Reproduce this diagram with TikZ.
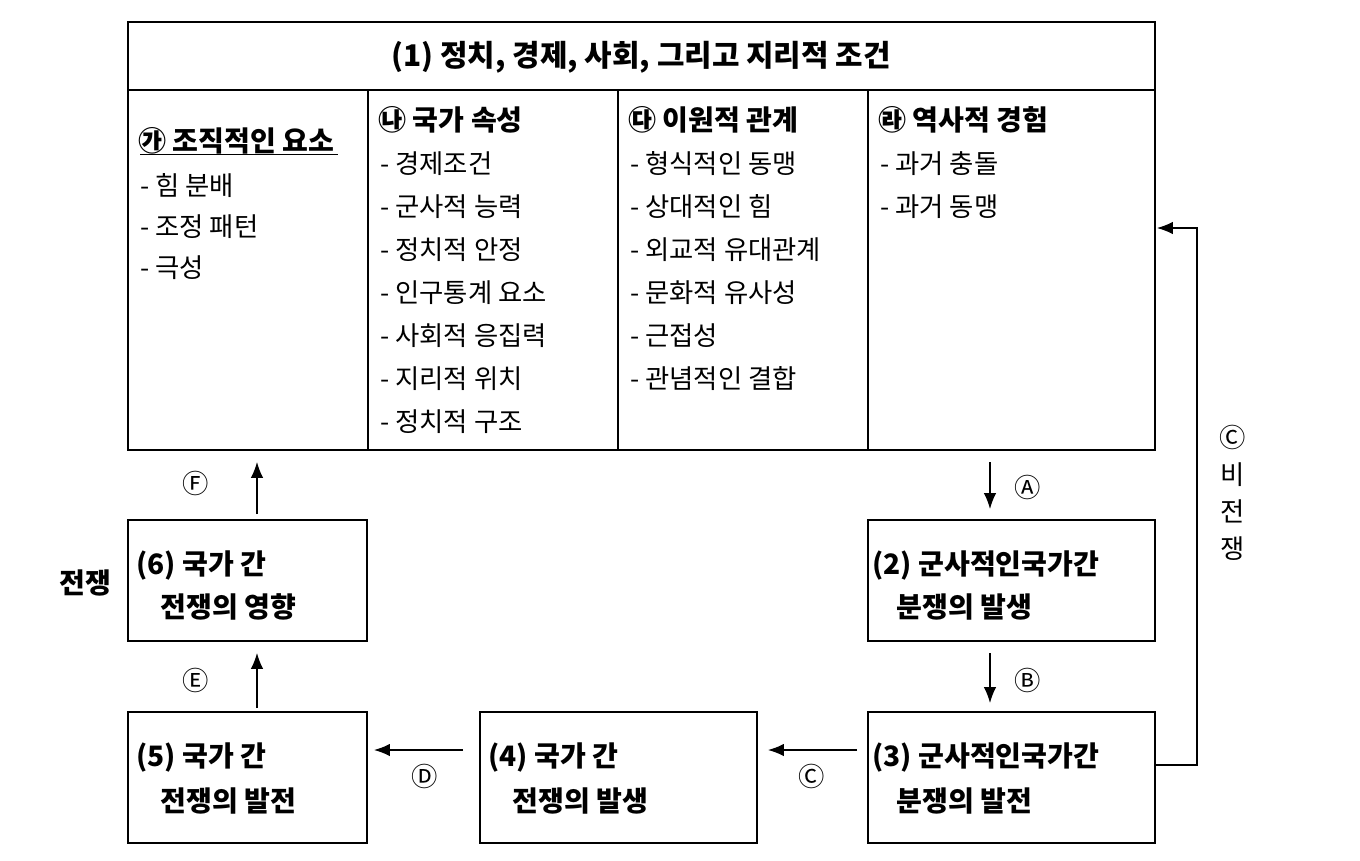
\documentclass[tikz,border=0pt]{standalone}
\usepackage{fontspec}
\setmainfont{Noto Sans CJK KR}
\newfontfamily\kb{Noto Sans CJK KR}
\begin{document}
\begin{tikzpicture}[x=0.02cm,y=-0.02cm,
  box/.style={draw,line width=0.8pt},
  arr/.style={-{Latex[length=9pt,width=7pt]},line width=0.7pt},
  t/.style={anchor=west,font=\fontsize{15}{15}\selectfont,inner sep=0pt},
  h/.style={anchor=west,font=\fontsize{16}{16}\selectfont\bfseries,inner sep=0pt},
  lb/.style={font=\fontsize{15}{15}\selectfont,inner sep=0pt}]
\usetikzlibrary{arrows.meta}
\useasboundingbox (0,0) rectangle (1360,860);
\draw[box] (128,22) rectangle (1155,450);
\draw[box] (128,90) -- (1155,90);
\foreach \x in {368,618,868}{\draw[box] (\x,90) -- (\x,450);}
\node[lb,font=\fontsize{17}{17}\selectfont\bfseries] (title) at (641,57) {(1) 정치, 경제, 사회, 그리고 지리적 조건};
% column 1
\node[h] (h1) at (138,141) {㉮ 조직적인 요소};
\draw (140,154) -- (338,154);
\foreach \s [count=\i] in {힘 분배,조정 패턴,극성}{\node[t] (c1\i) at (140,145+41*\i) {- \s};}
% column 2
\node[h] (h2) at (378,120) {㉯ 국가 속성};
\foreach \s [count=\i] in {경제조건,군사적 능력,정치적 안정,인구통계 요소,사회적 응집력,지리적 위치,정치적 구조}{\node[t] (c2\i) at (380,121+43*\i) {- \s};}
% column 3
\node[h] (h3) at (628,120) {㉰ 이원적 관계};
\foreach \s [count=\i] in {형식적인 동맹,상대적인 힘,외교적 유대관계,문화적 유사성,근접성,관념적인 결합}{\node[t] (c3\i) at (630,121+43*\i) {- \s};}
% column 4
\node[h] (h4) at (878,120) {㉱ 역사적 경험};
\foreach \s [count=\i] in {과거 충돌,과거 동맹}{\node[t] (c4\i) at (880,121+43*\i) {- \s};}
% boxes
\draw[box] (128,520) rectangle (367,641); \coordinate (b6) at (128,520);
\node[h] (b6a) at (136,565) {(6) 국가 간};
\node[h] (b6b) at (160,607) {전쟁의 영향};
\draw[box] (128,712) rectangle (367,843);
\node[h] (b5a) at (136,757) {(5) 국가 간};
\node[h] (b5b) at (160,801) {전쟁의 발전};
\draw[box] (480,712) rectangle (757,843);
\node[h] (b4a) at (488,757) {(4) 국가 간};
\node[h] (b4b) at (512,801) {전쟁의 발생};
\draw[box] (868,712) rectangle (1155,843);
\node[h] (b3a) at (872,757) {(3) 군사적인국가간};
\node[h] (b3b) at (896,801) {분쟁의 발전};
\draw[box] (868,520) rectangle (1155,641);
\node[h] (b2a) at (872,565) {(2) 군사적인국가간};
\node[h] (b2b) at (896,607) {분쟁의 발생};
% arrows
\draw[arr] (990,462) -- (990,509); \node[lb] (la) at (1028,487) {Ⓐ};
\draw[arr] (990,653) -- (990,703); \node[lb] (lbB) at (1028,680) {Ⓑ};
\draw[arr] (857,750) -- (768,750); \node[lb] (lc) at (812,776) {Ⓒ};
\draw[arr] (463,750) -- (374,750); \node[lb] (ld) at (425,776) {Ⓓ};
\draw[arr] (257,708) -- (257,653); \node[lb] (le) at (196,680) {Ⓔ};
\draw[arr] (257,514) -- (257,462); \node[lb] (lf) at (196,483) {Ⓕ};
\draw[arr,line width=0.6pt] (1155,765) -- (1197,765) -- (1197,228) -- (1157,228);
\node[lb,align=center] (nw) at (1233,493) {Ⓒ\\[6pt]비\\[6pt]전\\[6pt]쟁};
\node[lb,font=\fontsize{16}{16}\selectfont\bfseries] (w) at (85,583) {전쟁};
\end{tikzpicture}
\end{document}
